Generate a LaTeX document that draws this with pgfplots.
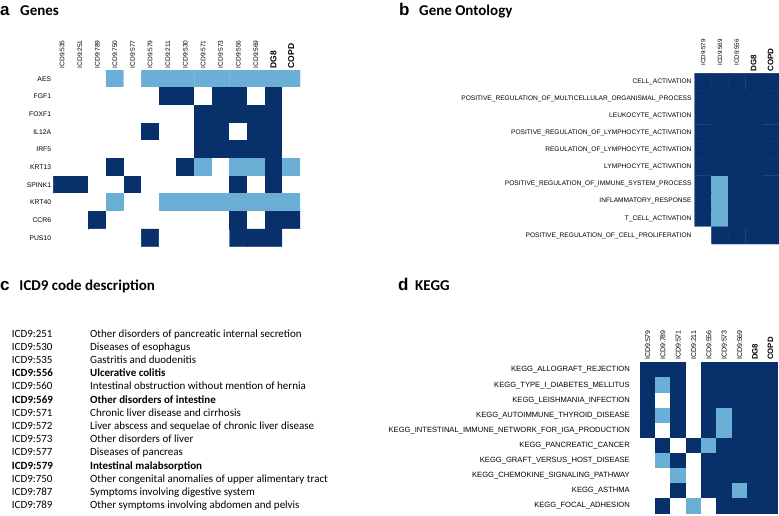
\documentclass[border=0pt]{standalone}
\usepackage{pgfplots}
\pgfplotsset{compat=1.18}
\usepackage{fontspec}
\setmainfont{Liberation Sans}
\newfontfamily\calfont{Carlito}
\definecolor{hmdark}{RGB}{8,48,107}
\definecolor{hmlight}{RGB}{107,174,214}
\pgfplotsset{
  hmstyle/.style={
    anchor=north west, scale only axis, enlargelimits=false,
    y dir=reverse,
    axis line style={draw=none}, tick style={draw=none},
    xticklabel pos=upper,
    xticklabel style={rotate=90, anchor=west, inner sep=1.5pt},
    yticklabel style={anchor=east, inner sep=2pt},
    colormap={hm}{rgb255=(255,255,255) rgb255=(107,174,214) rgb255=(8,48,107)},
    point meta min=0, point meta max=2,
  }
}
\newcommand{\bl}[2]{{\fontsize{#1}{#1}\selectfont\bfseries #2}}
\begin{document}
\begin{tikzpicture}[x=1pt,y=-1pt]
% titles
\node[anchor=base west, inner sep=0, font=\fontsize{17}{17}\selectfont\bfseries] at (0,15) {a};
\node[anchor=base west, inner sep=0, font=\calfont\bfseries\fontsize{15}{15}\selectfont] at (20,15) {Genes};
\node[anchor=base west, inner sep=0, font=\fontsize{17}{17}\selectfont\bfseries] at (399,15) {b};
\node[anchor=base west, inner sep=0, font=\calfont\bfseries\fontsize{15}{15}\selectfont] at (419,15) {Gene Ontology};
\node[anchor=base west, inner sep=0, font=\fontsize{17}{17}\selectfont\bfseries] at (0,290) {c};
\node[anchor=base west, inner sep=0, font=\calfont\bfseries\fontsize{15}{15}\selectfont] at (19.3,290) {ICD9 code description};
\node[anchor=base west, inner sep=0, font=\fontsize{17}{17}\selectfont\bfseries] at (398,290) {d};
\node[anchor=base west, inner sep=0, font=\calfont\bfseries\fontsize{15}{15}\selectfont] at (415,290) {KEGG};

% panel c
\begin{scope}[every node/.style={anchor=base west, inner sep=0, font=\calfont\fontsize{11}{13}\selectfont}]
\node at (11.7,337.0) {ICD9:251}; \node at (90,337.0) {Other disorders of pancreatic internal secretion};
\node at (11.7,350.2) {ICD9:530}; \node at (90,350.2) {Diseases of esophagus};
\node at (11.7,363.4) {ICD9:535}; \node at (90,363.4) {Gastritis and duodenitis};
\node at (11.7,376.6) {\bfseries ICD9:556}; \node at (90,376.6) {\bfseries Ulcerative colitis};
\node at (11.7,389.8) {ICD9:560}; \node at (90,389.8) {Intestinal obstruction without mention of hernia};
\node at (11.7,403.0) {\bfseries ICD9:569}; \node at (90,403.0) {\bfseries Other disorders of intestine};
\node at (11.7,416.2) {ICD9:571}; \node at (90,416.2) {Chronic liver disease and cirrhosis};
\node at (11.7,429.4) {ICD9:572}; \node at (90,429.4) {Liver abscess and sequelae of chronic liver disease};
\node at (11.7,442.6) {ICD9:573}; \node at (90,442.6) {Other disorders of liver};
\node at (11.7,455.8) {ICD9:577}; \node at (90,455.8) {Diseases of pancreas};
\node at (11.7,469.0) {\bfseries ICD9:579}; \node at (90,469.0) {\bfseries Intestinal malabsorption};
\node at (11.7,482.2) {ICD9:750}; \node at (90,482.2) {Other congenital anomalies of upper alimentary tract};
\node at (11.7,495.4) {ICD9:787}; \node at (90,495.4) {Symptoms involving digestive system};
\node at (11.7,508.6) {ICD9:789}; \node at (90,508.6) {Other symptoms involving abdomen and pelvis};
\end{scope}

% panel a: Genes
\begin{axis}[hmstyle, at={(53.3pt,-70pt)}, width=246.7pt, height=176.7pt,
  xmin=-0.5, xmax=13.5, ymin=-0.5, ymax=9.5,
  xtick={0,...,13}, ytick={0,...,9},
  xticklabels={ICD9:535,ICD9:251,ICD9:789,ICD9:750,ICD9:577,ICD9:579,ICD9:211,ICD9:530,ICD9:571,ICD9:573,ICD9:556,ICD9:569,\bl{8.5}{DG8},\bl{8.5}{COPD}},
  yticklabels={AES,FGF1,FOXF1,IL12A,IRF5,KRT13,SPINK1,KRT40,CCR6,PUS10},
  xticklabel style={font=\fontsize{6.6}{7}\selectfont},
  yticklabel style={font=\fontsize{6.8}{8}\selectfont},
]
\addplot[matrix plot*, mesh/cols=14, point meta=explicit] table[row sep=\\, meta=c] {
x y c\\
0 0 0\\ 1 0 0\\ 2 0 0\\ 3 0 1\\ 4 0 0\\ 5 0 1\\ 6 0 1\\ 7 0 1\\ 8 0 1\\ 9 0 1\\ 10 0 1\\ 11 0 1\\ 12 0 1\\ 13 0 1\\
0 1 0\\ 1 1 0\\ 2 1 0\\ 3 1 0\\ 4 1 0\\ 5 1 0\\ 6 1 2\\ 7 1 2\\ 8 1 0\\ 9 1 2\\ 10 1 2\\ 11 1 0\\ 12 1 2\\ 13 1 0\\
0 2 0\\ 1 2 0\\ 2 2 0\\ 3 2 0\\ 4 2 0\\ 5 2 0\\ 6 2 0\\ 7 2 0\\ 8 2 2\\ 9 2 2\\ 10 2 2\\ 11 2 2\\ 12 2 2\\ 13 2 0\\
0 3 0\\ 1 3 0\\ 2 3 0\\ 3 3 0\\ 4 3 0\\ 5 3 2\\ 6 3 0\\ 7 3 0\\ 8 3 2\\ 9 3 2\\ 10 3 0\\ 11 3 2\\ 12 3 2\\ 13 3 0\\
0 4 0\\ 1 4 0\\ 2 4 0\\ 3 4 0\\ 4 4 0\\ 5 4 0\\ 6 4 0\\ 7 4 0\\ 8 4 2\\ 9 4 2\\ 10 4 2\\ 11 4 2\\ 12 4 2\\ 13 4 0\\
0 5 0\\ 1 5 0\\ 2 5 0\\ 3 5 2\\ 4 5 0\\ 5 5 0\\ 6 5 0\\ 7 5 2\\ 8 5 1\\ 9 5 0\\ 10 5 1\\ 11 5 1\\ 12 5 2\\ 13 5 1\\
0 6 2\\ 1 6 2\\ 2 6 0\\ 3 6 0\\ 4 6 2\\ 5 6 0\\ 6 6 0\\ 7 6 0\\ 8 6 0\\ 9 6 0\\ 10 6 2\\ 11 6 0\\ 12 6 2\\ 13 6 0\\
0 7 0\\ 1 7 0\\ 2 7 0\\ 3 7 1\\ 4 7 0\\ 5 7 0\\ 6 7 1\\ 7 7 1\\ 8 7 1\\ 9 7 1\\ 10 7 1\\ 11 7 1\\ 12 7 1\\ 13 7 1\\
0 8 0\\ 1 8 0\\ 2 8 2\\ 3 8 0\\ 4 8 0\\ 5 8 0\\ 6 8 0\\ 7 8 0\\ 8 8 0\\ 9 8 0\\ 10 8 2\\ 11 8 0\\ 12 8 2\\ 13 8 2\\
0 9 0\\ 1 9 0\\ 2 9 0\\ 3 9 0\\ 4 9 0\\ 5 9 2\\ 6 9 0\\ 7 9 0\\ 8 9 0\\ 9 9 0\\ 10 9 2\\ 11 9 2\\ 12 9 2\\ 13 9 0\\
};
\end{axis}

% panel b: Gene Ontology
\begin{axis}[hmstyle, at={(694.7pt,-73.3pt)}, width=84.3pt, height=170.7pt,
  xmin=-0.5, xmax=4.5, ymin=-0.5, ymax=9.5,
  xtick={0,...,4}, ytick={0,...,9},
  xticklabels={\hspace*{6pt}ICD9:579,\hspace*{6pt}ICD9:569,\hspace*{6pt}ICD9:556,\bl{8}{DG8},\bl{8}{COPD}},
  yticklabels={CELL\_ACTIVATION,POSITIVE\_REGULATION\_OF\_MULTICELLULAR\_ORGANISMAL\_PROCESS,LEUKOCYTE\_ACTIVATION,POSITIVE\_REGULATION\_OF\_LYMPHOCYTE\_ACTIVATION,REGULATION\_OF\_LYMPHOCYTE\_ACTIVATION,LYMPHOCYTE\_ACTIVATION,POSITIVE\_REGULATION\_OF\_IMMUNE\_SYSTEM\_PROCESS,INFLAMMATORY\_RESPONSE,T\_CELL\_ACTIVATION,POSITIVE\_REGULATION\_OF\_CELL\_PROLIFERATION},
  xticklabel style={font=\fontsize{6.2}{7}\selectfont},
  yticklabel style={font=\fontsize{6.6}{8}\selectfont, inner sep=3pt},
]
\addplot[matrix plot*, mesh/cols=5, point meta=explicit] table[row sep=\\, meta=c] {
x y c\\
0 0 2\\ 1 0 2\\ 2 0 2\\ 3 0 2\\ 4 0 2\\
0 1 2\\ 1 1 2\\ 2 1 2\\ 3 1 2\\ 4 1 2\\
0 2 2\\ 1 2 2\\ 2 2 2\\ 3 2 2\\ 4 2 2\\
0 3 2\\ 1 3 2\\ 2 3 2\\ 3 3 2\\ 4 3 2\\
0 4 2\\ 1 4 2\\ 2 4 2\\ 3 4 2\\ 4 4 2\\
0 5 2\\ 1 5 2\\ 2 5 2\\ 3 5 2\\ 4 5 2\\
0 6 2\\ 1 6 1\\ 2 6 2\\ 3 6 2\\ 4 6 2\\
0 7 2\\ 1 7 1\\ 2 7 2\\ 3 7 2\\ 4 7 2\\
0 8 2\\ 1 8 1\\ 2 8 2\\ 3 8 2\\ 4 8 2\\
0 9 0\\ 1 9 2\\ 2 9 2\\ 3 9 2\\ 4 9 2\\
};
\end{axis}

% panel d: KEGG
\begin{axis}[hmstyle, at={(640pt,-362.5pt)}, width=138pt, height=151pt,
  xmin=-0.5, xmax=8.5, ymin=-0.5, ymax=9.5,
  xtick={0,...,8}, ytick={0,...,9},
  xticklabels={ICD9:579,ICD9:789,ICD9:571,ICD9:211,ICD9:556,ICD9:573,ICD9:569,\bl{7.8}{DG8},\bl{7.8}{COPD}},
  yticklabels={KEGG\_ALLOGRAFT\_REJECTION,KEGG\_TYPE\_I\_DIABETES\_MELLITUS,KEGG\_LEISHMANIA\_INFECTION,KEGG\_AUTOIMMUNE\_THYROID\_DISEASE,KEGG\_INTESTINAL\_IMMUNE\_NETWORK\_FOR\_IGA\_PRODUCTION,KEGG\_PANCREATIC\_CANCER,KEGG\_GRAFT\_VERSUS\_HOST\_DISEASE,KEGG\_CHEMOKINE\_SIGNALING\_PATHWAY,KEGG\_ASTHMA,KEGG\_FOCAL\_ADHESION},
  xticklabel style={font=\fontsize{7}{7.5}\selectfont, inner sep=2.5pt},
  yticklabel style={font=\fontsize{7.6}{9}\selectfont, inner sep=0pt, xshift=-10pt},
]
\addplot[matrix plot*, mesh/cols=9, point meta=explicit] table[row sep=\\, meta=c] {
x y c\\
0 0 2\\ 1 0 2\\ 2 0 2\\ 3 0 0\\ 4 0 2\\ 5 0 2\\ 6 0 2\\ 7 0 2\\ 8 0 2\\
0 1 2\\ 1 1 1\\ 2 1 2\\ 3 1 0\\ 4 1 2\\ 5 1 2\\ 6 1 2\\ 7 1 2\\ 8 1 2\\
0 2 2\\ 1 2 0\\ 2 2 2\\ 3 2 0\\ 4 2 2\\ 5 2 2\\ 6 2 2\\ 7 2 2\\ 8 2 2\\
0 3 2\\ 1 3 1\\ 2 3 2\\ 3 3 0\\ 4 3 2\\ 5 3 1\\ 6 3 2\\ 7 3 2\\ 8 3 2\\
0 4 2\\ 1 4 0\\ 2 4 2\\ 3 4 0\\ 4 4 2\\ 5 4 1\\ 6 4 2\\ 7 4 2\\ 8 4 2\\
0 5 0\\ 1 5 2\\ 2 5 0\\ 3 5 2\\ 4 5 1\\ 5 5 2\\ 6 5 2\\ 7 5 2\\ 8 5 2\\
0 6 0\\ 1 6 1\\ 2 6 2\\ 3 6 0\\ 4 6 2\\ 5 6 2\\ 6 6 2\\ 7 6 2\\ 8 6 2\\
0 7 0\\ 1 7 0\\ 2 7 1\\ 3 7 0\\ 4 7 2\\ 5 7 2\\ 6 7 2\\ 7 7 2\\ 8 7 2\\
0 8 0\\ 1 8 0\\ 2 8 2\\ 3 8 0\\ 4 8 2\\ 5 8 2\\ 6 8 1\\ 7 8 2\\ 8 8 2\\
0 9 0\\ 1 9 2\\ 2 9 0\\ 3 9 1\\ 4 9 0\\ 5 9 2\\ 6 9 2\\ 7 9 2\\ 8 9 2\\
};
\end{axis}

\pgfresetboundingbox
\path[use as bounding box] (0,0) rectangle (779,515);
\end{tikzpicture}
\end{document}
